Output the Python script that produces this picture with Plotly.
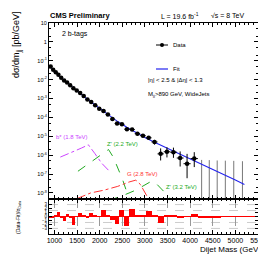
import plotly.graph_objects as go

# ---------------- data ----------------
bin_edges = [890, 944, 1000, 1058, 1118, 1181, 1246, 1313, 1383, 1455, 1530, 1607,
             1687, 1770, 1856, 1945, 2037, 2132, 2231, 2332, 2438, 2546, 2659, 2775,
             2895, 3019, 3147, 3279, 3416, 3558, 3704, 3854, 4010, 4171, 4337, 4509,
             4686, 4869, 5058, 5253, 5455]
data_mass = [917, 972, 1029, 1088, 1150, 1214, 1280, 1348, 1419, 1493, 1569, 1647,
             1729, 1813, 1901, 1991, 2085, 2182, 2282, 2385, 2492, 2603, 2717, 2835,
             2957, 3083, 3213, 3348, 3487, 3631, 3779, 3932, 4091]
data_log = [-1.30, -1.47, -1.61, -1.74, -1.90, -2.04, -2.15, -2.30, -2.46, -2.58,
            -2.71, -2.87, -3.05, -3.18, -3.36, -3.54, -3.66, -3.85, -4.09, -4.32,
            -4.36, -4.62, -4.64, -4.86, -4.97, -5.08, -5.30, -5.93, -5.82, -5.84,
            -6.15, -6.45, -6.18]
err_dn_log = [0.003, 0.003, 0.004, 0.004, 0.005, 0.005, 0.006, 0.007, 0.008, 0.009,
              0.010, 0.012, 0.014, 0.016, 0.018, 0.021, 0.024, 0.028, 0.035, 0.044,
              0.047, 0.060, 0.062, 0.080, 0.090, 0.11, 0.14, 0.35, 0.30, 0.30,
              0.45, 0.77, 0.45]
err_up_log = [0.003, 0.003, 0.004, 0.004, 0.005, 0.005, 0.006, 0.007, 0.008, 0.009,
              0.010, 0.012, 0.014, 0.016, 0.018, 0.021, 0.024, 0.028, 0.034, 0.041,
              0.044, 0.055, 0.057, 0.072, 0.080, 0.09, 0.11, 0.29, 0.24, 0.24,
              0.35, 0.52, 0.34]
# empty bins: upper limit only
empty_mass = [4254, 4423, 4598, 4778, 4964, 5156]
empty_up_log = [-6.25, -6.26, -6.28, -6.29, -6.30, -6.32]

fit_mass = [890, 1000, 1200, 1400, 1600, 1800, 2000, 2200, 2400, 2600, 2800, 3000,
            3200, 3400, 3600, 3800, 4000, 4200, 4400, 4600, 4800, 5000, 5200]
fit_log = [-1.25, -1.56, -2.00, -2.41, -2.79, -3.17, -3.53, -3.89, -4.22, -4.52,
           -4.80, -5.06, -5.30, -5.52, -5.74, -5.96, -6.18, -6.40, -6.63, -6.86,
           -7.09, -7.32, -7.55]

residual = [-0.3, -0.2, 0.4, 1.2, -0.4, -1.2, 0.6, -0.4, -2.2, -0.1, 0.8, 0.3,
            -0.5, 0.9, 0.3, 0.05, 1.6, 0.4, -0.9, -2.0, 1.6, -2.3, 1.9, 0.2,
            0.5, 1.4, 0.3, -1.6, 0.2, 0.2, -0.3, 0.1, 0.6, -0.4, -0.2, -0.15,
            -0.1, -0.1, -0.1, -0.05]

bstar_mass = [1130, 1300, 1435, 1600, 1750, 1890, 2043, 2196]
bstar_log = [-6.10, -5.95, -5.79, -5.62, -5.45, -5.90, -6.42, -6.80]
zp22_mass = [1520, 1700, 1900, 2050, 2196, 2300, 2400, 2500, 2600, 2680]
zp22_log = [-6.85, -6.55, -6.20, -5.92, -5.70, -6.10, -6.65, -7.25, -7.95, -8.40]
g28_mass = [1500, 1800, 2100, 2400, 2650, 2800, 2900, 3000, 3100]
g28_log = [-8.30, -8.00, -7.85, -7.65, -7.42, -7.32, -7.55, -7.95, -8.40]
zp32_mass = [2200, 2500, 2800, 3000, 3150, 3250, 3400, 3550, 3650]
zp32_log = [-8.40, -8.15, -7.85, -7.55, -7.37, -7.50, -7.90, -8.30, -8.50]

y_tick_vals = [1, 0, -1, -2, -3, -4, -5, -6, -7, -8]
y_tick_text = ["10", "1", "10<sup>-1</sup>", "10<sup>-2</sup>", "10<sup>-3</sup>",
               "10<sup>-4</sup>", "10<sup>-5</sup>", "10<sup>-6</sup>",
               "10<sup>-7</sup>", "10<sup>-8</sup>"]
x_ticks = [1000, 1500, 2000, 2500, 3000, 3500, 4000, 4500, 5000, 5500]
r_ticks = [-3, -2, -1, 0, 1, 2, 3]
r_grid = [-3, -1.5, 1.5, 3]

# ---------------- figure ----------------
FONT = "Liberation Sans, Arial, sans-serif"
p10 = lambda v: 10 ** v

W, H = 266, 255
ML, MR, MT, MB = 41, 16, 15, 29
PW, PH = W - ML - MR, H - MT - MB

fig = go.Figure()

# signal curves
fig.add_trace(go.Scatter(x=bstar_mass, y=[p10(v) for v in bstar_log], mode="lines",
                         line=dict(color="#cc44ff", width=1, dash="dashdot"),
                         xaxis="x", yaxis="y", hoverinfo="skip"))
fig.add_trace(go.Scatter(x=zp22_mass, y=[p10(v) for v in zp22_log], mode="lines",
                         line=dict(color="#22aa22", width=1, dash="dash"),
                         xaxis="x", yaxis="y", hoverinfo="skip"))
fig.add_trace(go.Scatter(x=g28_mass, y=[p10(v) for v in g28_log], mode="lines",
                         line=dict(color="#ff3333", width=1, dash="dashdot"),
                         xaxis="x", yaxis="y", hoverinfo="skip"))
fig.add_trace(go.Scatter(x=zp32_mass, y=[p10(v) for v in zp32_log], mode="lines",
                         line=dict(color="#22aa22", width=1, dash="dash"),
                         xaxis="x", yaxis="y", hoverinfo="skip"))

# empty-bin upper limits
ex, ey = [], []
for m, u in zip(empty_mass, empty_up_log):
    ex += [m, m, None]
    ey += [1e-10, p10(u), None]
fig.add_trace(go.Scatter(x=ex, y=ey, mode="lines", line=dict(color="#777777", width=1),
                         xaxis="x", yaxis="y", hoverinfo="skip"))

# fit
fig.add_trace(go.Scatter(x=fit_mass, y=[p10(v) for v in fit_log], mode="lines",
                         line=dict(color="#2222ee", width=1.1),
                         xaxis="x", yaxis="y", hoverinfo="skip"))

# data
yv = [p10(v) for v in data_log]
eu = [p10(v + u) - p10(v) for v, u in zip(data_log, err_up_log)]
ed = [p10(v) - p10(v - d) for v, d in zip(data_log, err_dn_log)]
xerr = [(bin_edges[i + 1] - bin_edges[i]) / 2 for i in range(len(data_mass))]
fig.add_trace(go.Scatter(x=data_mass, y=yv, mode="markers",
                         marker=dict(color="black", size=4.5),
                         error_y=dict(type="data", symmetric=False, array=eu, arrayminus=ed,
                                      color="black", thickness=1, width=0),
                         error_x=dict(type="data", array=xerr, color="black", thickness=1, width=0),
                         xaxis="x", yaxis="y", hoverinfo="skip"))

# residuals
centers = [(bin_edges[i] + bin_edges[i + 1]) / 2 for i in range(len(residual))]
widths = [bin_edges[i + 1] - bin_edges[i] for i in range(len(residual))]
fig.add_trace(go.Bar(x=centers, y=residual, width=widths, marker=dict(color="#ff0000", line=dict(width=0)),
                     xaxis="x2", yaxis="y2", hoverinfo="skip"))
fig.add_trace(go.Scatter(x=[bin_edges[0], bin_edges[len(residual)]], y=[0, 0], mode="lines",
                         line=dict(color="#ff0000", width=1), xaxis="x2", yaxis="y2",
                         hoverinfo="skip"))

XR = [880, 5500]
RDOM = 35 / PH

fig.update_layout(
    width=W, height=H,
    margin=dict(l=ML, r=MR, t=MT, b=MB, pad=0),
    paper_bgcolor="white", plot_bgcolor="white",
    showlegend=False, bargap=0,
    font=dict(family=FONT, color="black"),
    xaxis=dict(domain=[0, 1], range=XR, anchor="y", showticklabels=False,
               showline=True, linecolor="black", linewidth=1, mirror="allticks",
               ticks="inside", ticklen=4, tickcolor="black", tickvals=x_ticks,
               minor=dict(ticks="inside", ticklen=2, dtick=100, tickcolor="black"),
               showgrid=False, zeroline=False, automargin=False),
    yaxis=dict(domain=[RDOM, 1], type="log", range=[-8.32, 1], anchor="x",
               tickvals=[p10(v) for v in y_tick_vals], ticktext=y_tick_text,
               tickfont=dict(size=5.5), showline=True, linecolor="black", linewidth=1,
               mirror="allticks", ticks="inside", ticklen=4, tickcolor="black",
               minor=dict(ticks="inside", ticklen=2, tickcolor="black"),
               showgrid=False, zeroline=False, automargin=False),
    xaxis2=dict(domain=[0, 1], range=XR, anchor="y2", tickvals=x_ticks,
                tickfont=dict(size=7), showline=True, linecolor="black", linewidth=1,
                mirror="allticks", ticks="inside", ticklen=4, tickcolor="black",
                minor=dict(ticks="inside", ticklen=2, dtick=100, tickcolor="black"),
                showgrid=True, gridcolor="#999999", griddash="dash", gridwidth=0.5,
                zeroline=False, automargin=False),
    yaxis2=dict(domain=[0, RDOM], range=[-4.4, 4.4], anchor="x2", tickvals=r_ticks,
                tickfont=dict(size=4.5), showline=True, linecolor="black", linewidth=1,
                mirror="allticks", ticks="inside", ticklen=3, tickcolor="black",
                showgrid=False, zeroline=False, automargin=False),
)

def px_x(px):
    return (px - ML) / PW

def px_y(py):
    return (H - MB - py) / PH

ann = [
    dict(text="<b>CMS Preliminary</b>", x=px_x(40), y=px_y(8), xanchor="left", size=7.5),
    dict(text="L = 19.6 fb<sup>-1</sup>", x=px_x(151), y=px_y(8), xanchor="left", size=7),
    dict(text="√s = 8 TeV", x=px_x(201), y=px_y(8), xanchor="left", size=7),
    dict(text="2 b-tags", x=px_x(52), y=px_y(26), xanchor="left", size=7),
    dict(text="Data", x=px_x(163), y=px_y(37), xanchor="left", size=6),
    dict(text="Fit", x=px_x(163), y=px_y(61), xanchor="left", size=6),
    dict(text="|η| < 2.5 & |Δη| < 1.3", x=px_x(138), y=px_y(72), xanchor="left", size=6),
    dict(text="M<sub>jj</sub>>890 GeV, WideJets", x=px_x(138), y=px_y(86), xanchor="left", size=6),
    dict(text="Dijet Mass (GeV)", x=px_x(255), y=px_y(241), xanchor="right", size=8),
]
annotations = []
for a in ann:
    annotations.append(dict(text=a["text"], x=a["x"], y=a["y"], xref="paper", yref="paper",
                            xanchor=a["xanchor"], yanchor="middle", showarrow=False,
                            font=dict(size=a["size"], family=FONT, color="black")))
annotations.append(dict(text="dσ/dm<sub>jj</sub> [pb/GeV]", x=px_x(9), y=px_y(2), xref="paper",
                        yref="paper", xanchor="center", yanchor="top", textangle=-90,
                        showarrow=False, font=dict(size=9, family=FONT, color="black")))
annotations.append(dict(text="(Data-Fit)/σ<sub>Data</sub>", x=px_x(10), y=px_y(210), xref="paper",
                        yref="paper", xanchor="center", yanchor="middle", textangle=-90,
                        showarrow=False, font=dict(size=5, family=FONT, color="black")))
sig_labels = [
    ("b* (1.8 TeV)", 1391, -5.05, "#cc44ff"),
    ("Z' (2.2 TeV)", 2500, -5.42, "#22aa22"),
    ("G (2.8 TeV)", 2950, -7.0, "#ff3333"),
    ("Z' (3.2 TeV)", 3800, -7.68, "#22aa22"),
]
for t, mx, ly, c in sig_labels:
    annotations.append(dict(text=t, x=mx, y=ly, xref="x", yref="y", xanchor="center",
                            yanchor="middle", showarrow=False,
                            font=dict(size=6, family=FONT, color=c)))
fig.update_layout(annotations=annotations)

shapes = [
    dict(type="line", xref="paper", yref="paper", x0=px_x(148), x1=px_x(160),
         y0=px_y(37), y1=px_y(37), line=dict(color="black", width=1)),
    dict(type="circle", xref="paper", yref="paper", x0=px_x(152), x1=px_x(156),
         y0=px_y(39), y1=px_y(35), fillcolor="black", line=dict(color="black", width=0)),
    dict(type="line", xref="paper", yref="paper", x0=px_x(148), x1=px_x(160),
         y0=px_y(61), y1=px_y(61), line=dict(color="#2222ee", width=1.2)),
]
for g in r_grid:
    shapes.append(dict(type="line", xref="x2", yref="y2", x0=XR[0], x1=XR[1], y0=g, y1=g,
                       line=dict(color="#999999", width=0.5, dash="dash"), layer="below"))
fig.update_layout(shapes=shapes)

fig.write_html("out.html")
